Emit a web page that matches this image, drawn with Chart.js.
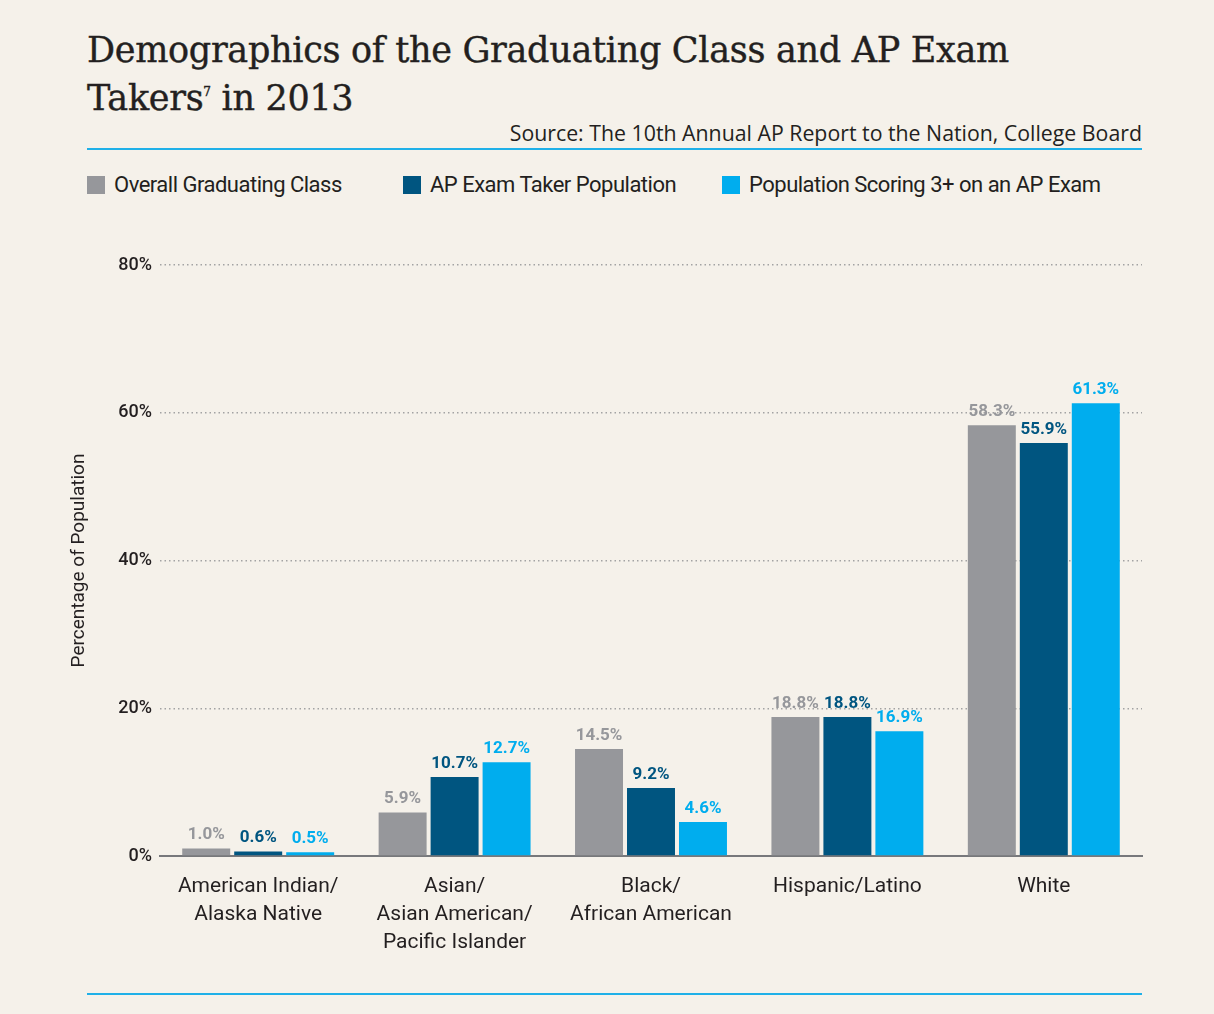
<!DOCTYPE html>
<html>
<head>
<meta charset="utf-8">
<script src="https://cdn.jsdelivr.net/npm/chart.js@4.4.1/dist/chart.umd.min.js"></script>
<style>
  html, body { margin:0; padding:0; background:#f5f1ea; }
  body { width:1214px; height:1014px; position:relative; overflow:hidden; }
  #title { position:absolute; left:87px; top:26px; font-family:"DejaVu Serif", serif; font-size:35px; line-height:48px; color:#231f20; letter-spacing:-0.3px; -webkit-text-stroke:0.4px #231f20; }
  #title sup { font-size:12px; vertical-align:top; position:relative; top:-6px; }
  #source { position:absolute; right:72px; top:118px; font-family:"Open Sans", sans-serif; font-size:21.3px; color:#231f20; letter-spacing:0; }
  .rule { position:absolute; left:87px; width:1055px; height:2px; background:#1fb0e8; }
  #legend { position:absolute; top:172px; left:87px; font-family:"Roboto", sans-serif; font-size:22px; letter-spacing:-0.5px; color:#231f20; }
  .li { position:absolute; white-space:nowrap; top:0; }
  .li span.box { display:inline-block; width:18px; height:18px; vertical-align:-2px; margin-right:9px; }
  #wrap { position:absolute; left:60px; top:240px; width:1090px; height:720px; }
</style>
</head>
<body>
<div id="title">Demographics of the Graduating Class and AP Exam<br>Takers<sup>7</sup> in 2013</div>
<div id="source">Source: The 10th Annual AP Report to the Nation, College Board</div>
<div class="rule" style="top:148px"></div>
<div id="legend"></div>
<div id="wrap"><canvas id="c"></canvas></div>
<div class="rule" style="top:993px"></div>
<script>
const categories = [
  ["American Indian/", "Alaska Native"],
  ["Asian/", "Asian American/", "Pacific Islander"],
  ["Black/", "African American"],
  ["Hispanic/Latino"],
  ["White"]
];
const seriesNames = ["Overall Graduating Class", "AP Exam Taker Population", "Population Scoring 3+ on an AP Exam"];
const overallGraduating = [1.0, 5.9, 14.5, 18.8, 58.3];
const apExamTakers = [0.6, 10.7, 9.2, 18.8, 55.9];
const scoring3Plus = [0.5, 12.7, 4.6, 16.9, 61.3];
const yTicks = [0, 20, 40, 60, 80];
const colors = ["#96979b", "#005580", "#00adee"];

const legendX = [0, 316, 635];
const legend = document.getElementById('legend');
seriesNames.forEach((n, i) => {
  const d = document.createElement('div');
  d.className = 'li';
  d.style.left = legendX[i] + 'px';
  d.innerHTML = '<span class="box" style="background:' + colors[i] + '"></span>' + n;
  legend.appendChild(d);
});

const condensed = '"Roboto", sans-serif';

const valueLabels = {
  id: 'valueLabels',
  afterDatasetsDraw(chart) {
    const ctx = chart.ctx;
    ctx.save();
    ctx.font = 'bold 17px ' + condensed;
    ctx.textAlign = 'center';
    ctx.textBaseline = 'bottom';
    chart.data.datasets.forEach((ds, di) => {
      const meta = chart.getDatasetMeta(di);
      ctx.fillStyle = ds.backgroundColor;
      meta.data.forEach((el, i) => {
        ctx.fillText(ds.data[i].toFixed(1) + '%', el.x, el.y - 5);
      });
    });
    ctx.restore();
  }
};

new Chart(document.getElementById('c'), {
  type: 'bar',
  data: {
    labels: categories,
    datasets: [
      { label: seriesNames[0], data: overallGraduating, backgroundColor: colors[0] },
      { label: seriesNames[1], data: apExamTakers, backgroundColor: colors[1] },
      { label: seriesNames[2], data: scoring3Plus, backgroundColor: colors[2] }
    ]
  },
  options: {
    responsive: true,
    maintainAspectRatio: false,
    animation: false,
    layout: { padding: { left: 8, right: 8, top: 25, bottom: 0 } },
    datasets: { bar: { categoryPercentage: 0.794, barPercentage: 0.923 } },
    plugins: { legend: { display: false }, tooltip: { enabled: false } },
    scales: {
      x: {
        grid: { display: false },
        border: { display: true, color: '#77787b', width: 2 },
        ticks: { color: '#231f20', font: { family: condensed, size: 21, lineHeight: 1.33 }, padding: 9, maxRotation: 0, autoSkip: false },
        afterFit(s) { s.height = 104; }
      },
      y: {
        min: 0, max: 80,
        afterBuildTicks(s) { s.ticks = yTicks.map(v => ({ value: v })); },
        grid: { drawTicks: false, color: ctx => ctx.tick && ctx.tick.value === 0 ? 'rgba(0,0,0,0)' : '#a3a3a3', lineWidth: 1.5 },
        border: { display: false, dash: [1.5, 3] },
        ticks: { color: '#231f20', font: { family: condensed, size: 18, weight: '500' }, padding: 8, callback: v => v + '%' },
        title: { display: true, text: 'Percentage of Population', color: '#231f20', font: { family: condensed, size: 19 }, padding: { top: 0, bottom: 0 } },
        afterFit(s) { s.width = 92; }
      }
    }
  },
  plugins: [valueLabels]
});
</script>
</body>
</html>
